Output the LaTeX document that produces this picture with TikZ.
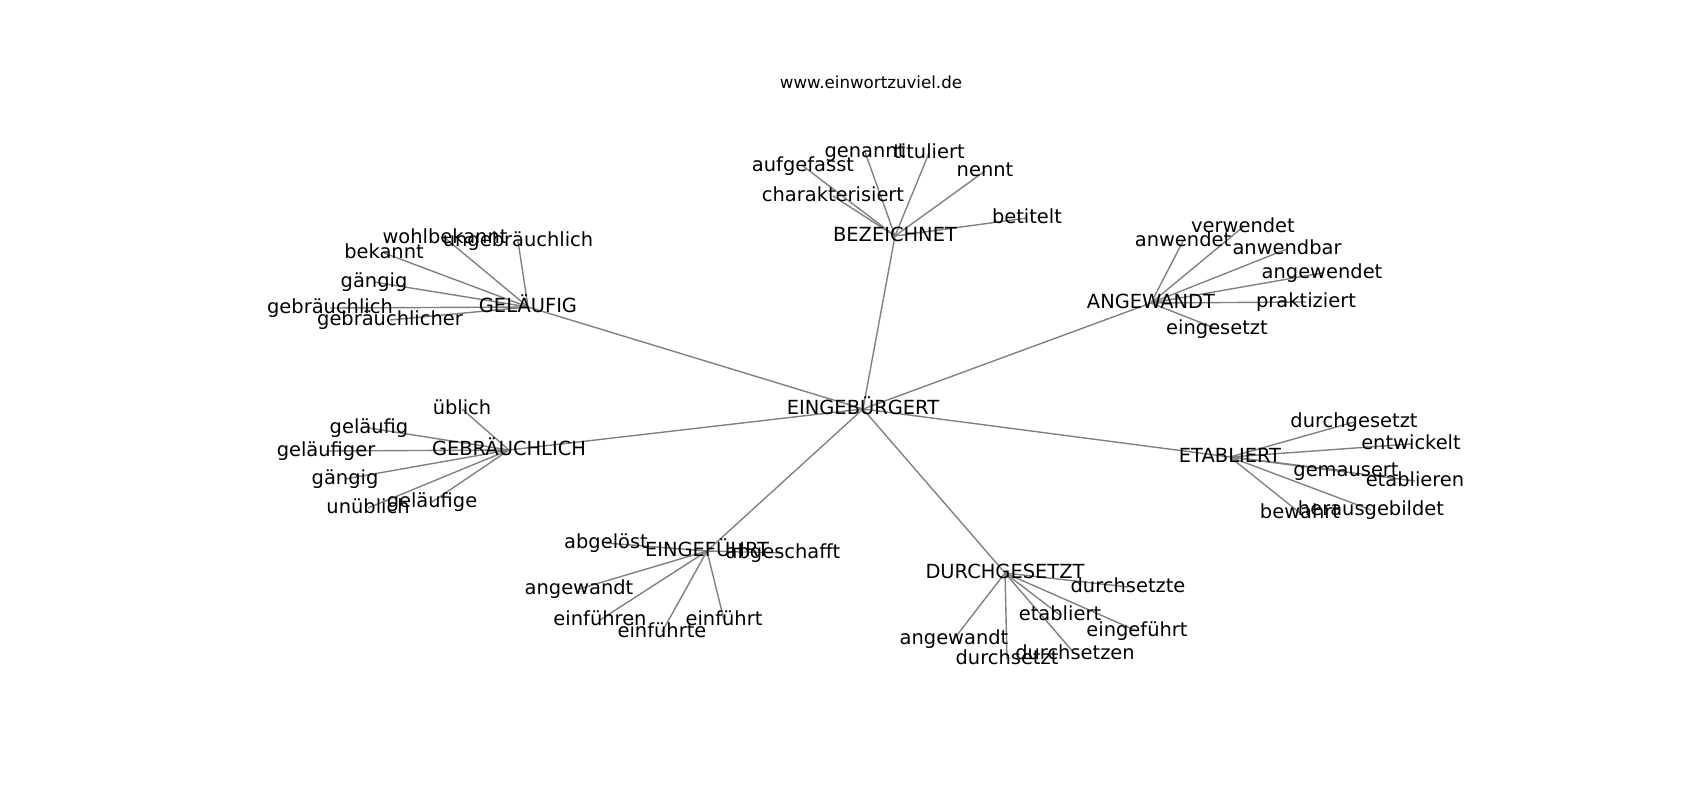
\documentclass[tikz,border=0pt]{standalone}
\usepackage{fontspec}
\setmainfont{DejaVu Sans}
\pgfdeclarelayer{bg}
\pgfsetlayers{bg,main}
\definecolor{edgegray}{RGB}{128,128,128}
\tikzset{
  lbl/.style={inner sep=0pt, outer sep=0pt, anchor=center, text=black,
    font=\fontsize{14}{16}\selectfont, text height=10.6pt, text depth=2.9pt},
  ttl/.style={inner sep=0pt, anchor=center, text=black,
    font=\fontsize{12}{14}\selectfont},
  edge/.style={draw=edgegray, line width=1pt}
}
\begin{document}
\begin{tikzpicture}[x=0.72pt,y=-0.72pt]
\useasboundingbox (0,0) rectangle (1700,800);
\node[ttl] (title) at (871,82) {www.einwortzuviel.de};
% hub
\node[lbl] (c) at (863,409) {EINGEBÜRGERT};
% BEZEICHNET
\node[lbl] (bez) at (895,236) {BEZEICHNET};
\node[lbl] (bez1) at (865,152) {genannt};
\node[lbl] (bez2) at (929,153) {tituliert};
\node[lbl] (bez3) at (803,166) {aufgefasst};
\node[lbl] (bez4) at (833,196) {charakterisiert};
\node[lbl] (bez5) at (985,171) {nennt};
\node[lbl] (bez6) at (1027,218) {betitelt};
% GELÄUFIG
\node[lbl] (gel) at (528,307) {GELÄUFIG};
\node[lbl] (gel1) at (445,238) {wohlbekannt};
\node[lbl] (gel2) at (518,241) {ungebräuchlich};
\node[lbl] (gel3) at (384,253) {bekannt};
\node[lbl] (gel4) at (374,282) {gängig};
\node[lbl] (gel5) at (330,308) {gebräuchlich};
\node[lbl] (gel6) at (390,320) {gebräuchlicher};
% ANGEWANDT
\node[lbl] (ang) at (1151,303) {ANGEWANDT};
\node[lbl] (ang1) at (1243,227) {verwendet};
\node[lbl] (ang2) at (1183,241) {anwendet};
\node[lbl] (ang3) at (1287,249) {anwendbar};
\node[lbl] (ang4) at (1322,273) {angewendet};
\node[lbl] (ang5) at (1306,302) {praktiziert};
\node[lbl] (ang6) at (1217,329) {eingesetzt};
% GEBRÄUCHLICH
\node[lbl] (geb) at (509,450) {GEBRÄUCHLICH};
\node[lbl] (geb1) at (462,409) {üblich};
\node[lbl] (geb2) at (369,428) {geläufig};
\node[lbl] (geb3) at (326,451) {geläufiger};
\node[lbl] (geb4) at (345,479) {gängig};
\node[lbl] (geb5) at (368,508) {unüblich};
\node[lbl] (geb6) at (432,502) {geläufige};
% ETABLIERT
\node[lbl] (eta) at (1230,457) {ETABLIERT};
\node[lbl] (eta1) at (1354,422) {durchgesetzt};
\node[lbl] (eta2) at (1411,444) {entwickelt};
\node[lbl] (eta3) at (1346,471) {gemausert};
\node[lbl] (eta4) at (1415,481) {etablieren};
\node[lbl] (eta5) at (1300,513) {bewahrt};
\node[lbl] (eta6) at (1371,510) {herausgebildet};
% EINGEFÜHRT
\node[lbl] (ein) at (707,551) {EINGEFÜHRT};
\node[lbl] (ein1) at (606,543) {abgelöst};
\node[lbl] (ein2) at (783,553) {abgeschafft};
\node[lbl] (ein3) at (579,589) {angewandt};
\node[lbl] (ein4) at (600,620) {einführen};
\node[lbl] (ein5) at (662,632) {einführte};
\node[lbl] (ein6) at (724,620) {einführt};
% DURCHGESETZT
\node[lbl] (dur) at (1005,573) {DURCHGESETZT};
\node[lbl] (dur1) at (1128,587) {durchsetzte};
\node[lbl] (dur2) at (1060,615) {etabliert};
\node[lbl] (dur3) at (1137,631) {eingeführt};
\node[lbl] (dur4) at (954,639) {angewandt};
\node[lbl] (dur5) at (1007,659) {durchsetzt};
\node[lbl] (dur6) at (1075,654) {durchsetzen};
\begin{pgfonlayer}{bg}
\foreach \h in {bez,gel,ang,geb,eta,ein,dur}{
  \draw[edge] (c.center) -- (\h.center);
  \foreach \i in {1,...,6}{
    \draw[edge] (\h.center) -- (\h\i.center);
  }
}
\end{pgfonlayer}
\end{tikzpicture}
\end{document}
